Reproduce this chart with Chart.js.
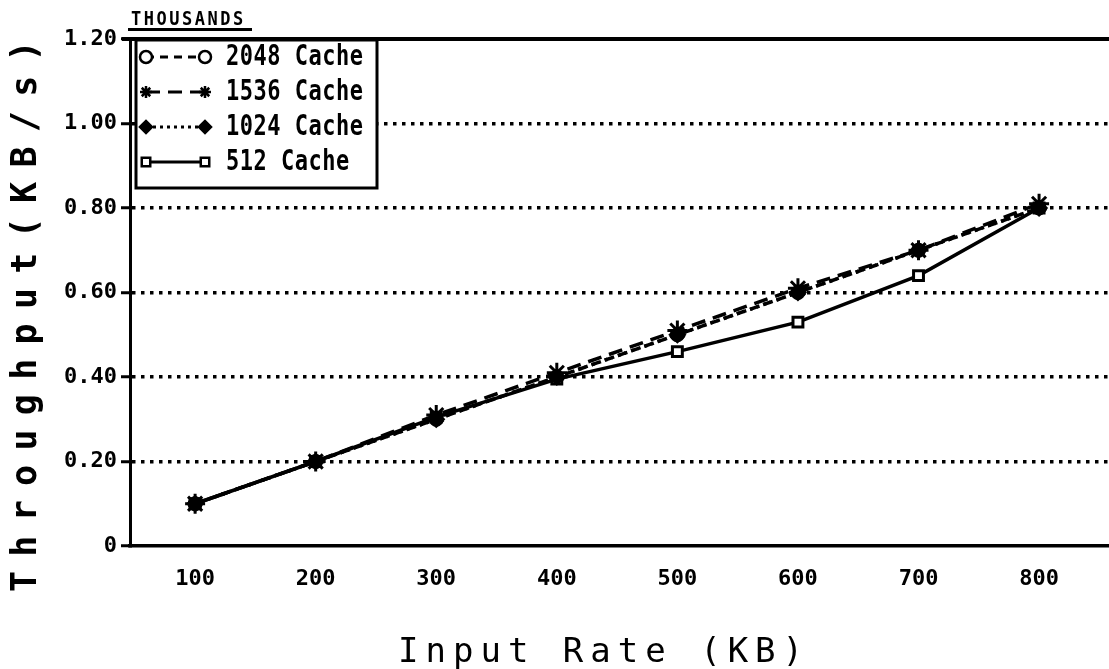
<!DOCTYPE html>
<html>
<head>
<meta charset="utf-8">
<script src="https://cdn.jsdelivr.net/npm/chart.js@4/dist/chart.umd.min.js"></script>
<style>
  html, body { margin: 0; padding: 0; background: #fff; overflow: hidden; }
  canvas { display: block; }
</style>
</head>
<body>
<canvas id="grafico" width="1109" height="669"></canvas>
<script>
// ---- data ----
const inputRates = [100, 200, 300, 400, 500, 600, 700, 800];
const cache2048 = [0.10, 0.20, 0.30, 0.40, 0.50, 0.60, 0.70, 0.80];
const cache1536 = [0.10, 0.20, 0.31, 0.41, 0.51, 0.61, 0.70, 0.81];
const cache1024 = [0.10, 0.20, 0.30, 0.40, 0.50, 0.60, 0.70, 0.80];
const cache512  = [0.10, 0.20, 0.305, 0.395, 0.46, 0.53, 0.64, 0.80];
const yTickLabels = ["0", "0.20", "0.40", "0.60", "0.80", "1.00", "1.20"];

const MONO = "'DejaVu Sans Mono', 'Liberation Mono', monospace";

const serie = (label, values, style, radius, dash, fill, order) => ({
  label,
  data: inputRates.map((x, i) => ({ x, y: values[i] })),
  order,
  borderColor: "#000",
  backgroundColor: fill ? "#000" : "#fff",
  borderWidth: 3.5,
  borderDash: dash,
  pointStyle: style,
  pointRadius: radius,
  pointBorderWidth: 3,
  pointBorderColor: "#000",
  pointBackgroundColor: fill ? "#000" : "#fff",
  tension: 0,
});

// lower order is drawn on top
const datasets = [
  serie("2048 Cache", cache2048, "circle", 6, [8, 6], false, 3),
  serie("1536 Cache", cache1536, "star", 10, [14, 8], true, 0),
  serie("1024 Cache", cache1024, "rectRot", 7, [3, 4], true, 1),
  serie("512 Cache", cache512, "rect", 7, [], false, 2),
];

// text with letter spacing and optional vertical stretch
function texto(ctx, str, x, y, font, spacing, stretchY, align) {
  ctx.save();
  ctx.font = font;
  ctx.fillStyle = "#000";
  ctx.textBaseline = "middle";
  ctx.letterSpacing = spacing + "px";
  ctx.textAlign = align || "left";
  ctx.translate(x, y);
  ctx.scale(1, stretchY);
  ctx.fillText(str, 0, 0);
  ctx.restore();
}

const decoracion = {
  id: "decoracion",
  afterDraw(chart) {
    const ctx = chart.ctx;
    const area = chart.chartArea;
    const H = Chart.helpers;

    // top frame line
    ctx.save();
    ctx.strokeStyle = "#000";
    ctx.lineWidth = 4;
    ctx.beginPath();
    ctx.moveTo(122, area.top);
    ctx.lineTo(chart.width, area.top);
    ctx.stroke();
    ctx.restore();

    // THOUSANDS
    texto(ctx, "THOUSANDS", 131, 20, "bold 17px " + MONO, 2.5, 1.1, "left");
    ctx.save();
    ctx.fillStyle = "#000";
    ctx.fillRect(128, 28, 124, 3);
    ctx.restore();

    // legend box
    ctx.save();
    ctx.fillStyle = "#fff";
    ctx.fillRect(136, 40, 241, 148);
    ctx.strokeStyle = "#000";
    ctx.lineWidth = 3;
    ctx.strokeRect(136, 40, 241, 148);
    ctx.restore();

    chart.data.datasets.forEach((ds, i) => {
      const y = 57 + i * 35;
      ctx.save();
      ctx.strokeStyle = "#000";
      ctx.lineWidth = 3;
      ctx.setLineDash(ds.borderDash);
      ctx.beginPath();
      ctx.moveTo(146, y);
      ctx.lineTo(205, y);
      ctx.stroke();
      ctx.setLineDash([]);
      ctx.fillStyle = ds.pointBackgroundColor;
      ctx.strokeStyle = "#000";
      ctx.lineWidth = 2.5;
      const opts = { pointStyle: ds.pointStyle, radius: 6, rotation: 0, borderWidth: 2.5 };
      if (H && H.drawPoint) {
        H.drawPoint(ctx, opts, 146, y);
        H.drawPoint(ctx, opts, 205, y);
      }
      ctx.restore();
      texto(ctx, ds.label, 226, y + 1, "bold 22px " + MONO, 0.5, 1.25, "left");
    });

    // axis titles
    texto(ctx, "Input Rate (KB)", 398, 653, "34px " + MONO, 7, 1.0, "left");
    ctx.save();
    ctx.translate(27, 592);
    ctx.rotate(-Math.PI / 2);
    texto(ctx, "Throughput(KB/s)", 0, 0, "bold 35px " + MONO, 14.3, 1.0, "left");
    ctx.restore();
  },
};

new Chart(document.getElementById("grafico"), {
  type: "line",
  data: { datasets },
  plugins: [decoracion],
  options: {
    responsive: false,
    animation: false,
    devicePixelRatio: 1,
    layout: { autoPadding: false, padding: { top: 39, right: 0, left: 0, bottom: 0 } },
    plugins: { legend: { display: false }, tooltip: { enabled: false } },
    scales: {
      x: {
        type: "linear",
        min: 46,
        max: 858,
        afterBuildTicks: (scale) => { scale.ticks = inputRates.map(v => ({ value: v })); },
        afterFit: (scale) => {
          scale.height = 669 - 546;
          scale.paddingLeft = 0;
          scale.paddingRight = 0;
        },
        grid: { display: false },
        border: { display: true, color: "#000", width: 3.5 },
        ticks: { color: "#000", padding: 12, maxRotation: 0, font: { family: MONO, size: 22, weight: "bold" } },
      },
      y: {
        min: 0,
        max: 1.2,
        afterBuildTicks: (scale) => { scale.ticks = yTickLabels.map((_, i) => ({ value: i * 0.2 })); },
        afterFit: (scale) => { scale.width = 130; },
        grid: {
          color: (c) => (c.tick && (c.index === 0 || c.index === yTickLabels.length - 1)) ? "rgba(0,0,0,0)" : "#000",
          lineWidth: 3.5,
          tickColor: "#000",
          tickLength: 9,
          tickWidth: 3,
        },
        border: { display: true, color: "#000", width: 3, dash: [3.5, 5.5] },
        ticks: {
          color: "#000",
          padding: 4,
          font: { family: MONO, size: 22, weight: "bold" },
          callback: (v, i) => yTickLabels[i],
        },
      },
    },
  },
});
</script>
</body>
</html>
